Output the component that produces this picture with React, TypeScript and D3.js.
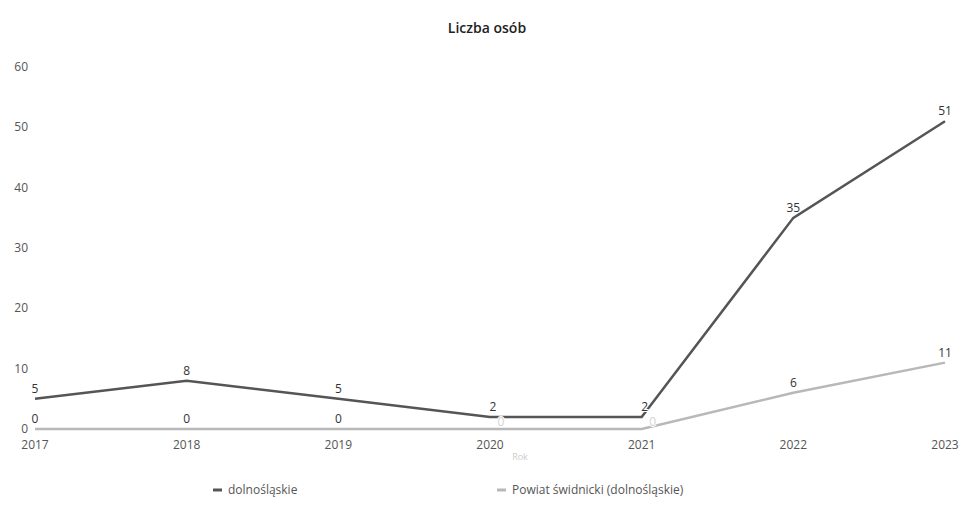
import { useEffect, useRef } from "react";
import * as d3 from "d3";

const years = ["2017", "2018", "2019", "2020", "2021", "2022", "2023"];
const dolnoslaskie = [5, 8, 5, 2, 2, 35, 51];
const powiat = [0, 0, 0, 0, 0, 6, 11];
const yTicks = [0, 10, 20, 30, 40, 50, 60];

const seriesNames = ["dolnośląskie", "Powiat świdnicki (dolnośląskie)"];
const seriesColors = ["#555555", "#b8b8b8"];

const W = 973;
const H = 524;
const FONT = "'Open Sans', 'Noto Sans', sans-serif";

export default function App() {
  const svgRef = useRef<SVGSVGElement | null>(null);

  useEffect(() => {
    if (!svgRef.current) return;
    const svg = d3.select(svgRef.current);
    svg.selectAll("*").remove();

    const margin = { top: 67, right: 28, bottom: 95, left: 35 };
    const innerW = W - margin.left - margin.right;
    const innerH = H - margin.top - margin.bottom;

    const x = d3.scalePoint<string>().domain(years).range([0, innerW]);
    const y = d3.scaleLinear().domain([0, 60]).range([innerH, 0]);

    svg
      .append("text")
      .attr("x", 487)
      .attr("y", 33)
      .attr("text-anchor", "middle")
      .attr("font-family", FONT)
      .attr("font-size", 14)
      .attr("font-weight", 600)
      .attr("fill", "#222")
      .text("Liczba osób");

    const g = svg
      .append("g")
      .attr("transform", `translate(${margin.left},${margin.top})`);

    // y axis labels
    g.selectAll("text.ytick")
      .data(yTicks)
      .enter()
      .append("text")
      .attr("class", "ytick")
      .attr("x", -7)
      .attr("y", (d) => y(d) + 4)
      .attr("text-anchor", "end")
      .attr("font-family", FONT)
      .attr("font-size", 12)
      .attr("fill", "#555")
      .text((d) => String(d));

    // x axis labels
    g.selectAll("text.xtick")
      .data(years)
      .enter()
      .append("text")
      .attr("class", "xtick")
      .attr("x", (d) => x(d) || 0)
      .attr("y", innerH + 20)
      .attr("text-anchor", "middle")
      .attr("font-family", FONT)
      .attr("font-size", 12)
      .attr("fill", "#555")
      .text((d) => d);

    g.append("text")
      .attr("x", innerW / 2 + 30)
      .attr("y", innerH + 31)
      .attr("text-anchor", "middle")
      .attr("font-family", FONT)
      .attr("font-size", 9)
      .attr("fill", "#ccc")
      .text("Rok");

    const allSeries = [dolnoslaskie, powiat];
    const line = d3
      .line<number>()
      .x((_, i) => x(years[i]) || 0)
      .y((d) => y(d));

    // draw light series first so dark sits on top
    [1, 0].forEach((si) => {
      g.append("path")
        .datum(allSeries[si])
        .attr("fill", "none")
        .attr("stroke", seriesColors[si])
        .attr("stroke-width", 2.5)
        .attr("d", line);
    });

    // where both points sit close, nudge labels so they don't collide
    const crowded = (i: number) =>
      Math.abs(y(dolnoslaskie[i]) - y(powiat[i])) < 16;

    [1, 0].forEach((si) => {
      g.selectAll(`text.lbl${si}`)
        .data(allSeries[si])
        .enter()
        .append("text")
        .attr("class", `lbl${si}`)
        .attr("x", (_, i) => {
          const dx = crowded(i) ? (si === 1 ? 11 : 3) : 0;
          return (x(years[i]) || 0) + dx;
        })
        .attr("y", (d, i) => y(d) - (si === 1 && crowded(i) ? 3 : 6))
        .attr("text-anchor", "middle")
        .attr("font-family", FONT)
        .attr("font-size", 12)
        .attr("fill", (_, i) => (si === 1 && crowded(i) ? "#d4d4d4" : "#333"))
        .attr("stroke", "#fff")
        .attr("stroke-width", 2)
        .attr("paint-order", "stroke")
        .text((d) => String(d));
    });

    // legend
    const legendX = [213, 497];
    seriesNames.forEach((name, i) => {
      const lg = svg
        .append("g")
        .attr("transform", `translate(${legendX[i]},490)`);
      lg.append("line")
        .attr("x1", 0)
        .attr("x2", 9)
        .attr("y1", 0)
        .attr("y2", 0)
        .attr("stroke", seriesColors[i])
        .attr("stroke-width", 3);
      lg.append("text")
        .attr("x", 15)
        .attr("y", 4)
        .attr("font-family", FONT)
        .attr("font-size", 12)
        .attr("fill", "#555")
        .text(name);
    });
  }, []);

  return (
    <svg
      ref={svgRef}
      width={W}
      height={H}
      style={{ position: "fixed", top: 0, left: 0, background: "#fff" }}
    />
  );
}
